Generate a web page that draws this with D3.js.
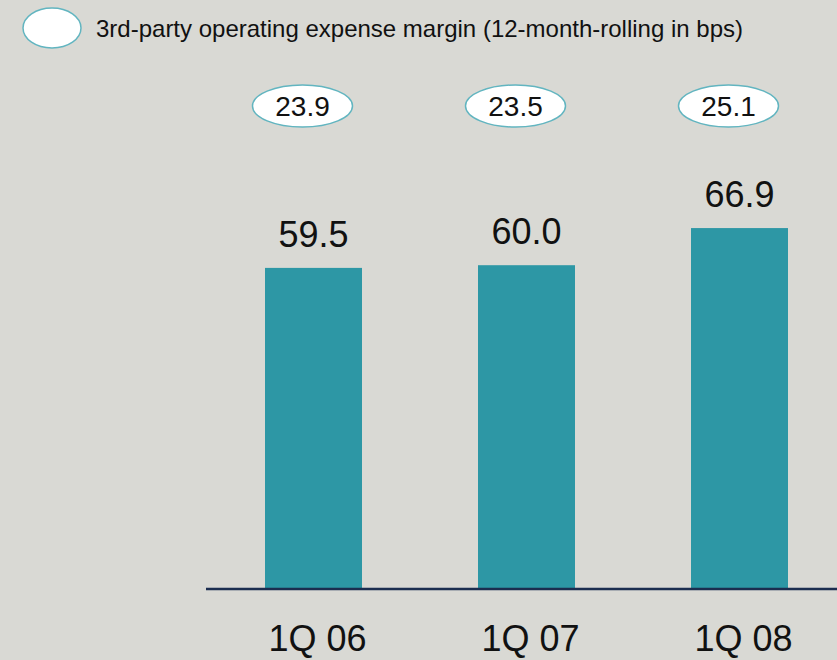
<!DOCTYPE html>
<html>
<head>
<meta charset="utf-8">
<script src="https://cdn.jsdelivr.net/npm/d3@7"></script>
<style>
  body { margin: 0; background: #d9d9d4; }
  svg { display: block; font-family: "Liberation Sans", Arial, sans-serif; }
</style>
</head>
<body>
<svg></svg>
<script>
var quarters = ['1Q 06', '1Q 07', '1Q 08'];
var expenses = [59.5, 60.0, 66.9];
var margins = [23.9, 23.5, 25.1];
var legendText = '3rd-party operating expense margin (12-month-rolling in bps)';

var width = 837;
var height = 660;
var baseY = 588;

var svg = d3.select('svg')
  .attr('width', width)
  .attr('height', height);

svg.append('rect')
  .attr('width', width)
  .attr('height', height)
  .attr('fill', '#d9d9d4');

var x = d3.scaleBand()
  .domain(quarters)
  .range([149, 904])
  .padding(0.5446);

var y = d3.scaleLinear()
  .domain([0, 100])
  .range([baseY, 50]);

// legend
svg.append('ellipse')
  .attr('cx', 52)
  .attr('cy', 28)
  .attr('rx', 29)
  .attr('ry', 20)
  .attr('fill', '#fff')
  .attr('stroke', '#62b5c0')
  .attr('stroke-width', 1.5);

svg.append('text')
  .attr('x', 96)
  .attr('y', 37)
  .attr('font-size', 24)
  .attr('fill', '#111')
  .text(legendText);

// bars
svg.selectAll('.bar')
  .data(expenses)
  .enter()
  .append('rect')
  .classed('bar', true)
  .attr('x', (d, i) => x(quarters[i]))
  .attr('y', d => y(d))
  .attr('width', x.bandwidth())
  .attr('height', d => baseY - y(d))
  .attr('fill', '#2d97a5');

svg.selectAll('.val')
  .data(expenses)
  .enter()
  .append('text')
  .classed('val', true)
  .attr('x', (d, i) => x(quarters[i]) + x.bandwidth() / 2)
  .attr('y', d => y(d) - 21)
  .attr('text-anchor', 'middle')
  .attr('font-size', 36)
  .attr('fill', '#111')
  .text(d => d.toFixed(1));

// margin ellipses
var bubbles = svg.selectAll('.bubble')
  .data(margins)
  .enter()
  .append('g')
  .classed('bubble', true)
  .attr('transform', (d, i) => 'translate(' + (x(quarters[i]) + x.bandwidth() / 2 - 11) + ',106)');

bubbles.append('ellipse')
  .attr('rx', 50)
  .attr('ry', 21)
  .attr('fill', '#fff')
  .attr('stroke', '#62b5c0')
  .attr('stroke-width', 1.5);

bubbles.append('text')
  .attr('y', 10)
  .attr('text-anchor', 'middle')
  .attr('font-size', 28)
  .attr('fill', '#111')
  .text(d => d.toFixed(1));

// axis line
svg.append('line')
  .attr('x1', 206)
  .attr('x2', width)
  .attr('y1', baseY + 1)
  .attr('y2', baseY + 1)
  .attr('stroke', '#1b2d4f')
  .attr('stroke-width', 2.5);

// category labels
svg.selectAll('.cat')
  .data(quarters)
  .enter()
  .append('text')
  .classed('cat', true)
  .attr('x', d => x(d) + x.bandwidth() / 2 + 4)
  .attr('y', 651)
  .attr('text-anchor', 'middle')
  .attr('font-size', 36)
  .attr('fill', '#111')
  .text(d => d);
</script>
</body>
</html>
